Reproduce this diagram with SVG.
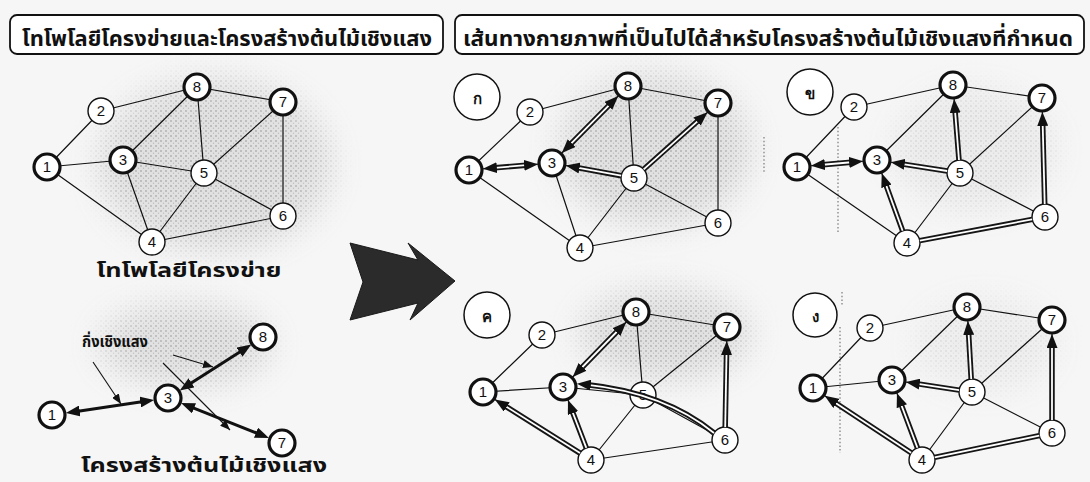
<svg xmlns="http://www.w3.org/2000/svg" width="1090" height="482" viewBox="0 0 1090 482">
<style>
.e{stroke:#111;stroke-width:1.2;fill:none}
.n circle{fill:#fff;stroke:#111;stroke-width:1.4}
.n.b circle{stroke-width:3.2}
.n text,.lb text{font-family:"Liberation Sans",Arial,sans-serif;font-size:15px;text-anchor:middle;fill:#111}
.th{font-family:"Noto Sans Thai","Loma","Garuda","Liberation Sans",sans-serif;font-weight:bold;fill:#111;text-anchor:middle}
.pk{stroke:#151515;stroke-width:5.5;fill:none}
.pw{stroke:#fff;stroke-width:1.8;fill:none}
.tk{stroke:#111;stroke-width:3;fill:none}
.an{stroke:#111;stroke-width:1.1;fill:none}
.dot{stroke:#8a8a8a;stroke-width:1.4;stroke-dasharray:1.5 2.2;fill:none}
.hb{fill:#fff;stroke:#111;stroke-width:1.8}
.lc{fill:#fff;stroke:#111;stroke-width:1.5}
</style>
<defs>
<marker id="ah" markerUnits="userSpaceOnUse" markerWidth="15" markerHeight="11" viewBox="0 0 15 11" refX="5" refY="5.5" orient="auto-start-reverse"><path d="M0,0 L14,5.5 L0,11 z" fill="#111"/></marker>
<marker id="sa" markerUnits="userSpaceOnUse" markerWidth="11" markerHeight="8" viewBox="0 0 11 8" refX="10" refY="4" orient="auto"><path d="M0,0 L10,4 L0,8 z" fill="#111"/></marker>
<filter id="bl" x="-50%" y="-50%" width="200%" height="200%"><feGaussianBlur stdDeviation="16"/></filter>
<pattern id="stp" width="5" height="5" patternUnits="userSpaceOnUse"><rect width="5" height="5" fill="#dcdcdc"/><circle cx="1" cy="1" r="0.9" fill="#9c9c9c"/><circle cx="3.5" cy="3.2" r="0.7" fill="#acacac"/></pattern>
<mask id="sm"><g filter="url(#bl)" fill="#fff">
<ellipse cx="215" cy="165" rx="115" ry="85"/>
<ellipse cx="185" cy="345" rx="85" ry="40"/>
<ellipse cx="655" cy="150" rx="95" ry="75"/>
<ellipse cx="975" cy="150" rx="80" ry="60" opacity="0.5"/>
<ellipse cx="665" cy="335" rx="85" ry="45"/>
<ellipse cx="985" cy="345" rx="70" ry="45" opacity="0.4"/>
</g></mask>
</defs>
<rect width="1090" height="482" fill="#f6f6f6"/>
<g id="shade"><rect width="1090" height="482" fill="url(#stp)" mask="url(#sm)" opacity="0.8"/></g>
<g id="header-left"><rect class="hb" x="10" y="15" width="433" height="39" rx="7"/><text class="th" x="227" y="46" font-size="22" textLength="410" lengthAdjust="spacingAndGlyphs">โทโพโลยีโครงข่ายและโครงสร้างต้นไม้เชิงแสง</text></g>
<g id="header-right"><rect class="hb" x="455" y="15" width="629" height="39" rx="7"/><text class="th" x="768" y="46" font-size="22" textLength="610" lengthAdjust="spacingAndGlyphs">เส้นทางกายภาพที่เป็นไปได้สำหรับโครงสร้างต้นไม้เชิงแสงที่กำหนด</text></g>
<g id="big-arrow"><polygon points="350,243 418,260 408,243 455,281 410,320 418,303 350,320 363,282" fill="#2b2b2b" stroke="#1a1a1a" stroke-width="1"/></g>
<g id="dotted">
<line class="dot" x1="838" y1="127" x2="838" y2="233"/>
<line class="dot" x1="764" y1="137" x2="764" y2="172"/>
<line class="dot" x1="842" y1="292" x2="842" y2="305"/>
<line class="dot" x1="840" y1="327" x2="840" y2="453"/>
</g>
<g id="edges">
<path class="e" d="M47,167L101,111M47,167L123,160M47,167L152,242M101,111L197,87M197,87L283,102M197,87L123,160M197,87L204,173M123,160L204,173M123,160L152,242M204,173L283,102M204,173L283,216M204,173L152,242M283,102L283,216M152,242L283,216"/>
<path class="e" d="M469,170L530,112M469,170L552,163M469,170L580,248M530,112L628,86M628,86L718,103M628,86L552,163M628,86L634,178M552,163L634,178M552,163L580,248M634,178L718,103M634,178L718,223M634,178L580,248M718,103L718,223M580,248L718,223"/>
<path class="e" d="M797,167L854,107M797,167L877,160M797,167L907,243M854,107L953,85M953,85L1042,98M953,85L877,160M953,85L960,173M877,160L960,173M877,160L907,243M960,173L1042,98M960,173L1045,217M960,173L907,243M1042,98L1045,217M907,243L1045,217"/>
<path class="e" d="M483,392L542,335M483,392L563,387M483,392L591,460M542,335L636,312M636,312L727,327M636,312L563,387M636,312L643,395M563,387L643,395M563,387L591,460M643,395L727,327M643,395L725,440M643,395L591,460M727,327L725,440M591,460L725,440"/>
<path class="e" d="M813,388L870,328M813,388L892,380M813,388L922,460M870,328L967,307M967,307L1052,320M967,307L892,380M967,307L972,392M892,380L972,392M892,380L922,460M972,392L1052,320M972,392L1052,433M972,392L922,460M1052,320L1052,433M922,460L1052,433"/>
</g>
<g id="node-L1" class="n b"><circle cx="47" cy="167" r="13"/><text x="47" y="172">1</text></g>
<g id="node-L2" class="n"><circle cx="101" cy="111" r="13"/><text x="101" y="116">2</text></g>
<g id="node-L3" class="n b"><circle cx="123" cy="160" r="13"/><text x="123" y="165">3</text></g>
<g id="node-L4" class="n"><circle cx="152" cy="242" r="13"/><text x="152" y="247">4</text></g>
<g id="node-L5" class="n"><circle cx="204" cy="173" r="13"/><text x="204" y="178">5</text></g>
<g id="node-L6" class="n"><circle cx="283" cy="216" r="13"/><text x="283" y="221">6</text></g>
<g id="node-L7" class="n b"><circle cx="283" cy="102" r="13"/><text x="283" y="107">7</text></g>
<g id="node-L8" class="n b"><circle cx="197" cy="87" r="13"/><text x="197" y="92">8</text></g>
<g id="label-network"><text class="th" x="189" y="277" font-size="19" textLength="185" lengthAdjust="spacingAndGlyphs">โทโพโลยีโครงข่าย</text></g>
<g id="tree-connectors">
<line class="tk" x1="74.8" y1="411.7" x2="145.2" y2="401.3" marker-start="url(#ah)" marker-end="url(#ah)"/>
<line class="tk" x1="187.3" y1="385.6" x2="243.7" y2="349.4" marker-start="url(#ah)" marker-end="url(#ah)"/>
<line class="tk" x1="189.4" y1="406.4" x2="260.6" y2="434.6" marker-start="url(#ah)" marker-end="url(#ah)"/>
<line class="an" x1="93" y1="362" x2="121" y2="404" marker-end="url(#sa)"/>
<line class="an" x1="173" y1="355" x2="213" y2="367" marker-end="url(#sa)"/>
<line class="an" x1="163" y1="363" x2="230" y2="430" marker-end="url(#sa)"/>
</g>
<g id="node-T1" class="n b"><circle cx="52" cy="415" r="13"/><text x="52" y="420">1</text></g>
<g id="node-T3" class="n b"><circle cx="168" cy="398" r="13"/><text x="168" y="403">3</text></g>
<g id="node-T7" class="n b"><circle cx="282" cy="443" r="13"/><text x="282" y="448">7</text></g>
<g id="node-T8" class="n b"><circle cx="263" cy="337" r="13"/><text x="263" y="342">8</text></g>
<g id="label-branch"><text class="th" x="115" y="347" font-size="16" textLength="66" lengthAdjust="spacingAndGlyphs">กิ่งเชิงแสง</text></g>
<g id="label-tree"><text class="th" x="204" y="472" font-size="20" textLength="246" lengthAdjust="spacingAndGlyphs">โครงสร้างต้นไม้เชิงแสง</text></g>
<g id="panel-a">
<g id="lbl-a" class="lb"><circle class="lc" cx="477" cy="97" r="23"/><text class="th" x="477" y="104" font-size="20">ก</text></g>
<g id="a1" class="n b"><circle cx="469" cy="170" r="13"/><text x="469" y="175">1</text></g>
<g id="a2" class="n"><circle cx="530" cy="112" r="13"/><text x="530" y="117">2</text></g>
<g id="a3" class="n b"><circle cx="552" cy="163" r="13"/><text x="552" y="168">3</text></g>
<g id="a4" class="n"><circle cx="580" cy="248" r="13"/><text x="580" y="253">4</text></g>
<g id="a5" class="n"><circle cx="634" cy="178" r="13"/><text x="634" y="183">5</text></g>
<g id="a6" class="n"><circle cx="718" cy="223" r="13"/><text x="718" y="228">6</text></g>
<g id="a7" class="n b"><circle cx="718" cy="103" r="13"/><text x="718" y="108">7</text></g>
<g id="a8" class="n b"><circle cx="628" cy="86" r="13"/><text x="628" y="91">8</text></g>
</g>
<g id="panel-b">
<g id="lbl-b" class="lb"><circle class="lc" cx="810" cy="92" r="23"/><text class="th" x="810" y="99" font-size="20">ข</text></g>
<g id="b1" class="n b"><circle cx="797" cy="167" r="13"/><text x="797" y="172">1</text></g>
<g id="b2" class="n"><circle cx="854" cy="107" r="13"/><text x="854" y="112">2</text></g>
<g id="b3" class="n b"><circle cx="877" cy="160" r="13"/><text x="877" y="165">3</text></g>
<g id="b4" class="n"><circle cx="907" cy="243" r="13"/><text x="907" y="248">4</text></g>
<g id="b5" class="n"><circle cx="960" cy="173" r="13"/><text x="960" y="178">5</text></g>
<g id="b6" class="n"><circle cx="1045" cy="217" r="13"/><text x="1045" y="222">6</text></g>
<g id="b7" class="n b"><circle cx="1042" cy="98" r="13"/><text x="1042" y="103">7</text></g>
<g id="b8" class="n b"><circle cx="953" cy="85" r="13"/><text x="953" y="90">8</text></g>
</g>
<g id="panel-c">
<g id="lbl-c" class="lb"><circle class="lc" cx="487" cy="315" r="23"/><text class="th" x="487" y="322" font-size="20">ค</text></g>
<g id="c1" class="n b"><circle cx="483" cy="392" r="13"/><text x="483" y="397">1</text></g>
<g id="c2" class="n"><circle cx="542" cy="335" r="13"/><text x="542" y="340">2</text></g>
<g id="c3" class="n b"><circle cx="563" cy="387" r="13"/><text x="563" y="392">3</text></g>
<g id="c4" class="n"><circle cx="591" cy="460" r="13"/><text x="591" y="465">4</text></g>
<g id="c5" class="n"><circle cx="643" cy="395" r="13"/><text x="643" y="400">5</text></g>
<g id="c6" class="n"><circle cx="725" cy="440" r="13"/><text x="725" y="445">6</text></g>
<g id="c7" class="n b"><circle cx="727" cy="327" r="13"/><text x="727" y="332">7</text></g>
<g id="c8" class="n b"><circle cx="636" cy="312" r="13"/><text x="636" y="317">8</text></g>
</g>
<g id="panel-d">
<g id="lbl-d" class="lb"><circle class="lc" cx="815" cy="315" r="22"/><text class="th" x="815" y="322" font-size="20">ง</text></g>
<g id="d1" class="n b"><circle cx="813" cy="388" r="13"/><text x="813" y="393">1</text></g>
<g id="d2" class="n"><circle cx="870" cy="328" r="13"/><text x="870" y="333">2</text></g>
<g id="d3" class="n b"><circle cx="892" cy="380" r="13"/><text x="892" y="385">3</text></g>
<g id="d4" class="n"><circle cx="922" cy="460" r="13"/><text x="922" y="465">4</text></g>
<g id="d5" class="n"><circle cx="972" cy="392" r="13"/><text x="972" y="397">5</text></g>
<g id="d6" class="n"><circle cx="1052" cy="433" r="13"/><text x="1052" y="438">6</text></g>
<g id="d7" class="n b"><circle cx="1052" cy="320" r="13"/><text x="1052" y="325">7</text></g>
<g id="d8" class="n b"><circle cx="967" cy="307" r="13"/><text x="967" y="312">8</text></g>
</g>
<g id="path-connectors">
<path class="pk" d="M491.9,168.1L529.1,164.9M568.1,146.6L611.9,102.4M621.2,175.7L574.6,167.1M643.7,169.3L700.8,118.3"/>
<line class="pw" x1="491.9" y1="168.1" x2="529.1" y2="164.9" marker-start="url(#ah)" marker-end="url(#ah)"/>
<line class="pw" x1="568.1" y1="146.6" x2="611.9" y2="102.4" marker-start="url(#ah)" marker-end="url(#ah)"/>
<line class="pw" x1="621.2" y1="175.7" x2="574.6" y2="167.1" marker-end="url(#ah)"/>
<line class="pw" x1="643.7" y1="169.3" x2="700.8" y2="118.3" marker-end="url(#ah)"/>
<path class="pk" d="M819.9,165L854.1,162M947.2,171L899.7,163.6M959,160L954.8,107.9M902.6,230.8L884.8,181.6M919.8,240.6L1032.2,219.4M1044.7,204L1042.6,121"/>
<line class="pw" x1="819.9" y1="165" x2="854.1" y2="162" marker-start="url(#ah)" marker-end="url(#ah)"/>
<line class="pw" x1="947.2" y1="171" x2="899.7" y2="163.6" marker-end="url(#ah)"/>
<line class="pw" x1="959" y1="160" x2="954.8" y2="107.9" marker-end="url(#ah)"/>
<line class="pw" x1="902.6" y1="230.8" x2="884.8" y2="181.6" marker-end="url(#ah)"/>
<line class="pw" x1="919.8" y1="240.6" x2="1032.2" y2="219.4"/>
<line class="pw" x1="1044.7" y1="204" x2="1042.6" y2="121" marker-end="url(#ah)"/>
<path class="pk" d="M579,370.5L620,328.5M580,453.1L502.5,404.3M586.3,447.9L571.2,408.5M714,433Q665,393 585.9,384.6M725.2,427L726.6,350"/>
<line class="pw" x1="579" y1="370.5" x2="620" y2="328.5" marker-start="url(#ah)" marker-end="url(#ah)"/>
<line class="pw" x1="580" y1="453.1" x2="502.5" y2="404.3" marker-end="url(#ah)"/>
<line class="pw" x1="586.3" y1="447.9" x2="571.2" y2="408.5" marker-end="url(#ah)"/>
<path class="pw" d="M714,433Q665,393 585.9,384.6" marker-end="url(#ah)"/>
<line class="pw" x1="725.2" y1="427" x2="726.6" y2="350" marker-end="url(#ah)"/>
<path class="pk" d="M911.1,452.8L832.2,400.7M917.4,447.8L900.1,401.6M959.1,390.1L914.7,383.4M971.2,379L968.4,330M934.7,457.4L1039.3,435.6M1052,420L1052,343"/>
<line class="pw" x1="911.1" y1="452.8" x2="832.2" y2="400.7" marker-end="url(#ah)"/>
<line class="pw" x1="917.4" y1="447.8" x2="900.1" y2="401.6" marker-end="url(#ah)"/>
<line class="pw" x1="959.1" y1="390.1" x2="914.7" y2="383.4" marker-end="url(#ah)"/>
<line class="pw" x1="971.2" y1="379" x2="968.4" y2="330" marker-end="url(#ah)"/>
<line class="pw" x1="934.7" y1="457.4" x2="1039.3" y2="435.6"/>
<line class="pw" x1="1052" y1="420" x2="1052" y2="343" marker-end="url(#ah)"/>
</g>
</svg>
